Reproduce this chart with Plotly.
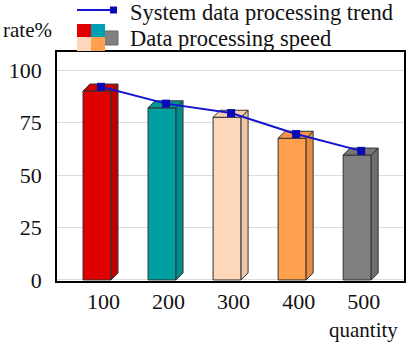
import plotly.graph_objects as go

categories = ["100", "200", "300", "400", "500"]
bar_values = [90, 82, 77.5, 67.5, 59.5]        # Data processing speed (front face height)
trend_values = [92, 84, 79.5, 69.5, 61.5]      # System data processing trend
y_ticks = [0, 25, 50, 75, 100]

front_colors = ["#E00000", "#00A0A0", "#FCD7BA", "#FFA04F", "#808080"]
side_colors = ["#C00000", "#008C8C", "#EEC6A6", "#E88C40", "#6E6E6E"]
top_colors = ["#D00000", "#009696", "#F5CFB0", "#F59648", "#777777"]

W, H = 408, 344
L, R, T, B = 57, 4, 52, 63
XR = [-0.615, 4.72]
YR = [-0.5, 108.6]

px_per_x = (W - L - R) / (XR[1] - XR[0])
px_per_y = (H - T - B) / (YR[1] - YR[0])
half = 14 / px_per_x
dx = 7 / px_per_x
dy = 7 / px_per_y
xoff = 4 / px_per_x

fig = go.Figure()
for i, v in enumerate(bar_values):
    x0, x1 = i - half, i + half
    polys = [
        ([x0, x1, x1, x0, x0], [0, 0, v, v, 0], front_colors[i]),
        ([x1, x1 + dx, x1 + dx, x1, x1], [0, dy, v + dy, v, 0], side_colors[i]),
        ([x0, x1, x1 + dx, x0 + dx, x0], [v, v, v + dy, v + dy, v], top_colors[i]),
    ]
    for xs, ys, c in polys:
        fig.add_trace(go.Scatter(x=xs, y=ys, fill="toself", fillcolor=c, mode="lines",
                                 line=dict(color="#333333", width=1), showlegend=False,
                                 hoverinfo="skip"))

fig.add_trace(go.Scatter(x=[i + xoff for i in range(len(trend_values))], y=trend_values,
                         mode="lines+markers", line=dict(color="#1414D2", width=2),
                         marker=dict(symbol="square", size=8, color="#0A0AB4"),
                         showlegend=False))

# pixel helpers for decorations
def px(x):
    return (x - L) / (W - L - R)

def py(y):
    return (H - B - y) / (H - T - B)

font_family = "Liberation Serif, Times New Roman, serif"
shapes = []
# legend line
shapes.append(dict(type="line", xref="paper", yref="paper", x0=px(77), x1=px(115), y0=py(10), y1=py(10),
                   line=dict(color="#1414D2", width=2)))
shapes.append(dict(type="rect", xref="paper", yref="paper", x0=px(110), x1=px(117), y0=py(6.5), y1=py(13.5),
                   fillcolor="#0A0AB4", line=dict(width=0)))
# legend icon for bars
icon = [(77, 24, 91, 37, "#E00000"), (91, 24, 105, 37, "#00A0B4"),
        (77, 37, 91, 51, "#FCD7BA"), (91, 37, 105, 51, "#FFA04F")]
shapes.append(dict(type="rect", xref="paper", yref="paper", x0=px(104), x1=px(118), y0=py(31), y1=py(45),
                   fillcolor="#808080", line=dict(color="#666666", width=1)))
for x0, y0, x1, y1, c in icon:
    shapes.append(dict(type="rect", xref="paper", yref="paper", x0=px(x0), x1=px(x1), y0=py(y0), y1=py(y1),
                       fillcolor=c, line=dict(width=0)))

annotations = [
    dict(text="System data processing trend", x=px(128), y=py(12), xref="paper", yref="paper",
         xanchor="left", yanchor="middle", showarrow=False, font=dict(family=font_family, size=22.5, color="#111")),
    dict(text="Data processing speed", x=px(128), y=py(38), xref="paper", yref="paper",
         xanchor="left", yanchor="middle", showarrow=False, font=dict(family=font_family, size=22.5, color="#111")),
    dict(text="rate%", x=px(1), y=py(30), xref="paper", yref="paper",
         xanchor="left", yanchor="middle", showarrow=False, font=dict(family=font_family, size=21, color="#111")),
    dict(text="quantity", x=px(400), y=py(330), xref="paper", yref="paper",
         xanchor="right", yanchor="middle", showarrow=False, font=dict(family=font_family, size=21, color="#111")),
]

fig.update_layout(
    width=W, height=H, margin=dict(l=L, r=R, t=T, b=B),
    paper_bgcolor="white", plot_bgcolor="white",
    shapes=shapes, annotations=annotations,
    xaxis=dict(range=XR, tickvals=[i + 0.1 for i in range(len(categories))], ticktext=categories,
               showgrid=False, zeroline=False, showline=True, linecolor="black", linewidth=1.5, mirror=True,
               automargin=False,
               ticks="", ticklabelstandoff=0, tickfont=dict(family=font_family, size=22, color="#111")),
    yaxis=dict(range=YR, tickvals=y_ticks, showgrid=True, gridcolor="#DDDDDD", gridwidth=1,
               zeroline=False, showline=True, linecolor="black", linewidth=1.5, mirror=True,
               automargin=False,
               ticks="", ticklabelstandoff=9, tickfont=dict(family=font_family, size=22, color="#111")),
)

fig.write_html("out.html", config={"displayModeBar": False},
               post_script="document.body.style.margin='0';document.body.style.overflow='hidden';")
